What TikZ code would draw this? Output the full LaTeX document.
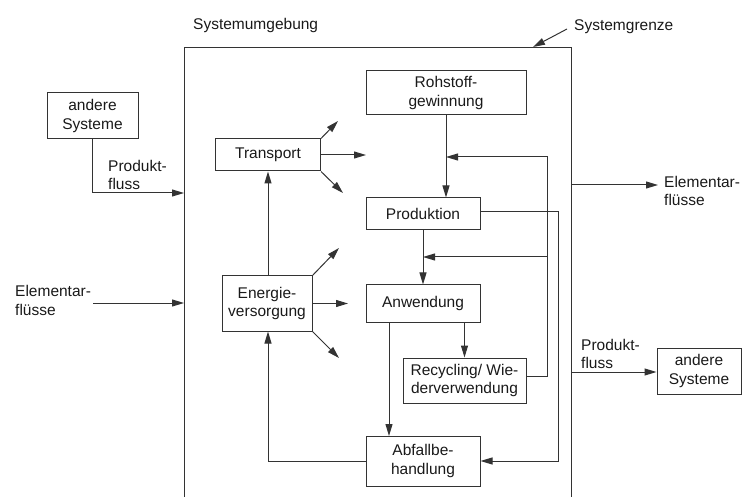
\documentclass[tikz,border=0pt]{standalone}
\usepackage{fontspec}
\setmainfont{Liberation Sans}
\usetikzlibrary{arrows.meta}
\begin{document}
\begin{tikzpicture}[x=1pt,y=-1pt,
  every node/.style={font=\fontsize{15.5}{18.5}\selectfont, text=black!90},
  line/.style={draw=black!80, line width=1pt},
  arr/.style={line, -{Triangle[length=12pt,width=7pt]}},
  box/.style={line, draw, inner sep=0pt, align=center},
  lbl/.style={inner sep=0pt, align=left, anchor=west}]
\useasboundingbox (0,0) rectangle (742,497);
% system boundary (open at the bottom)
\coordinate (bl) at (184,497);
\coordinate (tl) at (184,48);
\coordinate (tr) at (571,48);
\coordinate (br) at (571,497);
\draw[line] (bl) -- (tl) -- (tr) -- (br);
\node[lbl] (umg) at (193,25) {Systemumgebung};
\node[lbl] (grenze) at (574,27) {Systemgrenze};
\coordinate (gtip) at (533,47);
\draw[arr] (grenze.west) ++(-7,2) coordinate (gstart) -- (gtip);
% boxes
\node[box, minimum width=160, minimum height=44] (roh) at (446,93) {Rohstoff-\\gewinnung};
\node[box, minimum width=114, minimum height=32] (prod) at (423,214) {Produktion};
\node[box, minimum width=114, minimum height=37] (anw) at (423,303.5) {Anwendung};
\node[box, minimum width=123, minimum height=45] (rec) at (464.5,380.5) {Recycling/ Wie-\\derverwendung};
\node[box, minimum width=114, minimum height=50] (abf) at (423,461) {Abfallbe-\\handlung};
\node[box, minimum width=90, minimum height=55] (ener) at (267,303.5) {Energie-\\versorgung};
\node[box, minimum width=105, minimum height=32] (trans) at (268,155) {Transport};
\node[box, minimum width=91, minimum height=46] (andL) at (92.5,116) {andere\\Systeme};
\node[box, minimum width=84, minimum height=46] (andR) at (699,371) {andere\\Systeme};
% main chain
\draw[arr] (roh.south) -- (roh.south |- prod.north);
\draw[arr] (prod.south) -- (anw.north);
\draw[arr] (rec.north |- anw.south) -- (rec.north);
\coordinate (a1) at (389,322);
\coordinate (a2) at (389,436);
\draw[arr] (a1) -- (a2);
% recycling feedback
\coordinate (r1) at (526,376);
\coordinate (r2) at (547,376);
\coordinate (r3) at (547,157);
\coordinate (r4) at (446,157);
\coordinate (r5) at (547,257);
\coordinate (r6) at (423,257);
\draw[arr] (r1) -- (r2) -- (r3) -- (r4);
\draw[arr] (r5) -- (r6);
% production waste
\coordinate (p1) at (480,212);
\coordinate (p2) at (558,212);
\coordinate (p3) at (558,461);
\draw[arr] (p1) -- (p2) -- (p3) -- (abf.east);
% waste to energy
\coordinate (e1) at (268,461);
\draw[arr] (abf.west) -- (e1) -- (e1 |- ener.south);
\draw[arr] (ener.north -| trans.south) -- (trans.south);
% transport fans
\coordinate (t1) at (338,121);
\coordinate (t2) at (366,155);
\coordinate (t3) at (343,193);
\draw[arr] (trans.north east) -- (t1);
\draw[arr] (trans.east) -- (t2);
\draw[arr] (trans.south east) -- (t3);
% energy fans
\coordinate (f1) at (339,248);
\coordinate (f2) at (348,303.5);
\coordinate (f3) at (339,358);
\draw[arr] (ener.north east) -- (f1);
\draw[arr] (ener.east) -- (f2);
\draw[arr] (ener.south east) -- (f3);
% left inputs
\coordinate (l1) at (92.5,193);
\coordinate (l2) at (184,193);
\draw[arr] (andL.south) -- (l1) -- (l2);
\node[lbl] (pfL) at (108,175) {Produkt-\\fluss};
\node[lbl] (efL) at (15,300.5) {Elementar-\\flüsse};
\coordinate (l3) at (93,303);
\coordinate (l4) at (184,303);
\draw[arr] (l3) -- (l4);
% right outputs
\coordinate (o1) at (571,185);
\coordinate (o2) at (658,185);
\draw[arr] (o1) -- (o2);
\node[lbl] (efR) at (664,191) {Elementar-\\flüsse};
\coordinate (o3) at (571,372);
\draw[arr] (o3) -- (andR.west |- o3);
\node[lbl] (pfR) at (581,354) {Produkt-\\fluss};
\end{tikzpicture}
\end{document}
